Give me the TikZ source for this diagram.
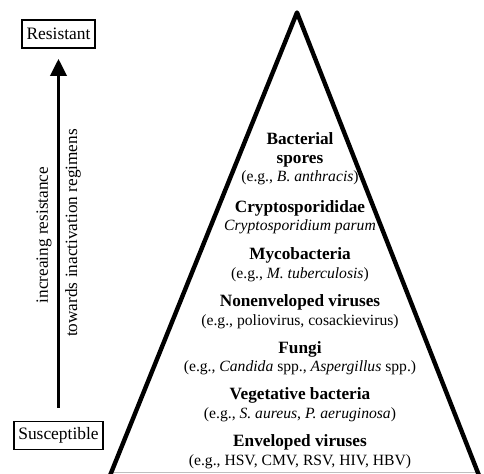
\documentclass[tikz,border=0pt]{standalone}
\usepackage{fontspec}
\setmainfont{Liberation Serif}
\usetikzlibrary{arrows.meta}
\newcommand{\ttl}[1]{{\fontsize{17.3}{18.5}\selectfont\bfseries #1}}
\begin{document}
\begin{tikzpicture}[x=1bp,y=-1bp,
  endbox/.style={draw, line width=1.6bp, inner xsep=4.5bp, minimum height=28bp, font=\fontsize{17.5}{20}\selectfont},
  grp/.style={align=center, inner sep=0pt, font=\fontsize{15.7}{18.5}\selectfont},
  side/.style={rotate=90, inner sep=0pt, font=\fontsize{17.3}{20}\selectfont},
  bigarrow/.style={line width=3.5bp, -{Triangle[length=17bp,width=16bp]}}]
\useasboundingbox (0,0) rectangle (484,474);
\fill[white] (0,0) rectangle (484,474);
% pyramid
\draw[gray!50, line width=1bp] (113,472.5) -- (477,472.5);
\draw[line width=4.4bp, line join=round] (109,478) -- (297,12.5) -- (480,478);
% side boxes and arrow
\node[endbox] (res) at (58.5,34) {Resistant};
\node[endbox] (sus) at (58.5,435.5) {Susceptible};
\draw[bigarrow] ([yshift=13bp]sus.north) -- ([yshift=-10bp]res.south);
\node[side] (t1) at (44,235) {increaing resistance};
\node[side] (t2) at (73,233) {towards inactivation regimens};
% pyramid text
\node[grp] (g1) at (300,159) {\ttl{Bacterial}\\\ttl{spores}\\(e.g., \textit{B. anthracis})};
\node[grp] (g2) at (300,217) {\ttl{Cryptosporididae}\\\textit{Cryptosporidium parum}};
\node[grp] (g3) at (300,264.5) {\ttl{Mycobacteria}\\(e.g., \textit{M. tuberculosis})};
\node[grp] (g4) at (300,311.5) {\ttl{Nonenveloped viruses}\\(e.g., poliovirus, cosackievirus)};
\node[grp] (g5) at (300,358) {\ttl{Fungi}\\(e.g., \textit{Candida} spp., \textit{Aspergillus} spp.)};
\node[grp] (g6) at (300,404.5) {\ttl{Vegetative bacteria}\\(e.g., \textit{S. aureus}, \textit{P. aeruginosa})};
\node[grp] (g7) at (300,451.5) {\ttl{Enveloped viruses}\\(e.g., HSV, CMV, RSV, HIV, HBV)};
\end{tikzpicture}
\end{document}
